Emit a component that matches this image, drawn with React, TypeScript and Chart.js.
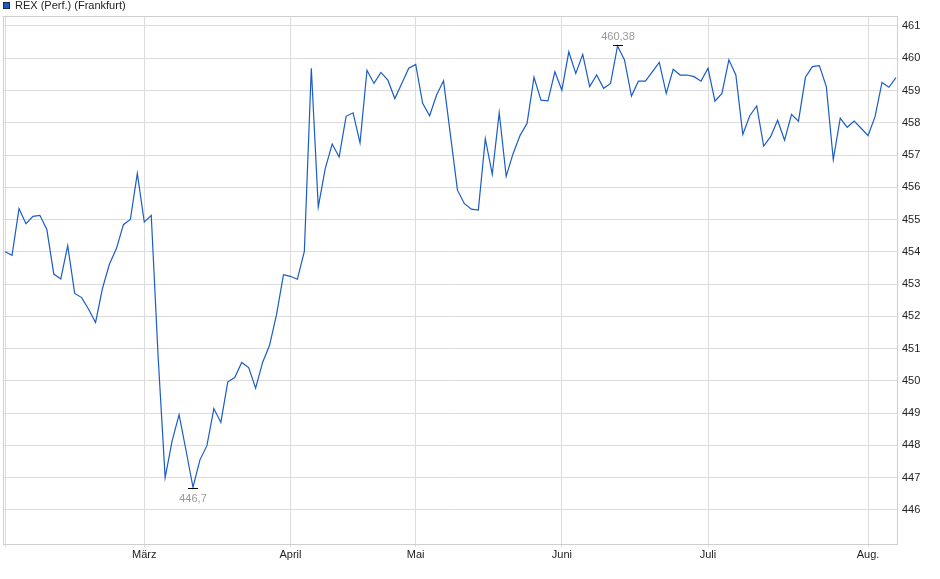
import { useEffect, useRef } from 'react';
import { Chart, registerables } from 'chart.js';
Chart.register(...registerables);

const seriesName = 'REX (Perf.) (Frankfurt)';

// one value per trading day, Feb .. Aug.
const rexValues = [
    454.00, 453.89, 455.34, 454.87, 455.10, 455.13, 454.69, 453.31, 453.16, 454.19,
    452.71, 452.58, 452.22, 451.81, 452.87, 453.62, 454.10, 454.84, 455.00, 456.43,
    454.92, 455.13, 450.70, 447.00, 448.14, 448.95, 447.84, 446.70, 447.55, 447.99,
    449.14, 448.71, 449.97, 450.10, 450.57, 450.41, 449.77, 450.57, 451.10, 452.05,
    453.29, 453.24, 453.15, 454.01, 459.69, 455.39, 456.58, 457.34, 456.94, 458.20,
    458.31, 457.38, 459.63, 459.22, 459.56, 459.32, 458.75, 459.22, 459.69, 459.81,
    458.60, 458.22, 458.86, 459.30, 457.61, 455.91, 455.49, 455.32, 455.29, 457.51,
    456.40, 458.31, 456.34, 457.05, 457.61, 457.98, 459.41, 458.70, 458.68, 459.58,
    459.01, 460.20, 459.53, 460.12, 459.12, 459.48, 459.07, 459.22, 460.38, 459.95,
    458.83, 459.29, 459.29, 459.58, 459.87, 458.91, 459.66, 459.48, 459.48, 459.43,
    459.29, 459.69, 458.67, 458.91, 459.95, 459.48, 457.64, 458.22, 458.52, 457.28,
    457.57, 458.08, 457.46, 458.26, 458.05, 459.41, 459.74, 459.77, 459.12, 456.86,
    458.14, 457.86, 458.05, 457.83, 457.60, 458.19, 459.25, 459.10, 459.40
];

// index of the first trading day of each month
const monthStarts = [0, 20, 41, 59, 80, 101, 124];
const monthLabels = ['', 'März', 'April', 'Mai', 'Juni', 'Juli', 'Aug.'];

const yTicks = [446, 447, 448, 449, 450, 451, 452, 453, 454, 455, 456, 457, 458, 459, 460, 461];

const lineColor = '#1a5cc6';
const fontFamily = '"Liberation Sans", Arial, sans-serif';

const fmt = (v: number) => String(v).replace('.', ',');

// frame, legend and min / max markers
const extrasPlugin = {
    id: 'extras',
    beforeDatasetsDraw(chart: any) {
        const { ctx, chartArea } = chart;
        ctx.save();
        ctx.strokeStyle = '#cfcfcf';
        ctx.lineWidth = 1;
        ctx.strokeRect(chartArea.left + 0.5, chartArea.top + 0.5,
            chartArea.right - chartArea.left - 1, chartArea.bottom - chartArea.top - 1);
        ctx.restore();
    },
    afterDatasetsDraw(chart: any) {
        const { ctx, scales } = chart;
        const x = scales.x;
        const y = scales.y;

        let minI = 0;
        let maxI = 0;
        rexValues.forEach((v, i) => {
            if (v < rexValues[minI]) minI = i;
            if (v > rexValues[maxI]) maxI = i;
        });

        ctx.save();
        ctx.font = `11px ${fontFamily}`;
        ctx.textAlign = 'center';
        ctx.textBaseline = 'middle';
        ctx.lineWidth = 1;

        const mark = (i: number, below: boolean) => {
            const px = Math.round(x.getPixelForValue(i));
            const py = Math.round(y.getPixelForValue(rexValues[i]));
            const ty = below ? py + 1 : py - 1;
            ctx.strokeStyle = '#000';
            ctx.beginPath();
            ctx.moveTo(px - 5, ty + 0.5);
            ctx.lineTo(px + 5, ty + 0.5);
            ctx.stroke();
            ctx.fillStyle = '#999';
            ctx.fillText(fmt(rexValues[i]), px, below ? ty + 11 : ty - 8);
        };
        mark(minI, true);
        mark(maxI, false);

        // legend
        ctx.fillStyle = lineColor;
        ctx.fillRect(3, 2, 7, 7);
        ctx.strokeStyle = '#1c2a4a';
        ctx.strokeRect(3.5, 2.5, 6, 6);
        ctx.fillStyle = '#222';
        ctx.textAlign = 'left';
        ctx.fillText(seriesName, 15, 6);
        ctx.restore();
    }
};

const App = () => {
    const chartRef = useRef<HTMLCanvasElement>(null);

    useEffect(() => {
        document.body.style.margin = '0';
        let myChart: any = null;

        if (chartRef.current) {
            myChart = new Chart(chartRef.current, {
                type: 'line',
                data: {
                    datasets: [{
                        label: seriesName,
                        data: rexValues.map((v, i) => ({ x: i, y: v })),
                        borderColor: lineColor,
                        borderWidth: 1.2,
                        pointRadius: 0,
                        tension: 0,
                        fill: false
                    }]
                },
                options: {
                    animation: false,
                    responsive: false,
                    devicePixelRatio: 1,
                    layout: { padding: { top: 16, left: 3, right: 0, bottom: 0 } },
                    plugins: {
                        legend: { display: false },
                        tooltip: { enabled: false }
                    },
                    scales: {
                        x: {
                            type: 'linear',
                            min: -0.3,
                            max: 128.3,
                            afterBuildTicks: (scale: any) => {
                                scale.ticks = monthStarts.map((v) => ({ value: v }));
                            },
                            afterFit: (scale: any) => { scale.height = 34; },
                            border: { display: false },
                            grid: { color: '#dcdcdc', tickLength: 2, tickColor: '#dcdcdc' },
                            ticks: {
                                padding: 1,
                                maxRotation: 0,
                                autoSkip: false,
                                color: '#222',
                                font: { family: fontFamily, size: 11 },
                                callback: (v: any) => monthLabels[monthStarts.indexOf(v)] ?? ''
                            }
                        },
                        y: {
                            position: 'right',
                            min: 444.91,
                            max: 461.31,
                            afterBuildTicks: (scale: any) => {
                                scale.ticks = yTicks.map((v) => ({ value: v }));
                            },
                            afterFit: (scale: any) => { scale.width = 42; },
                            border: { display: false },
                            grid: { color: '#dcdcdc', drawTicks: false },
                            ticks: {
                                padding: 4,
                                color: '#222',
                                font: { family: fontFamily, size: 11 },
                                callback: (v: any) => String(v)
                            }
                        }
                    }
                },
                plugins: [extrasPlugin]
            });
        }

        return () => {
            if (myChart) {
                myChart.destroy();
            }
        };
    }, []);

    return (
        <div style={{ width: 940, height: 579 }}>
            <canvas ref={chartRef} width={940} height={579} style={{ width: 940, height: 579 }}></canvas>
        </div>
    );
};

export default App;
